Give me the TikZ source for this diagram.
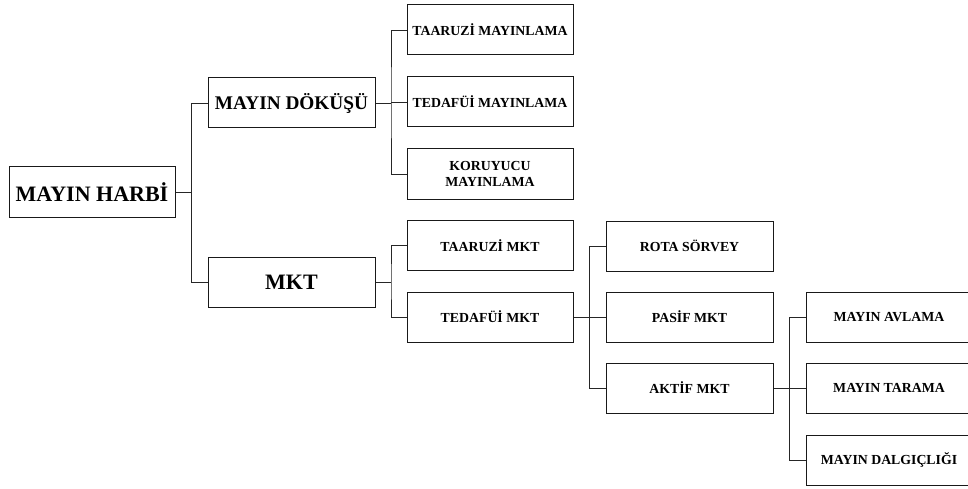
\documentclass[tikz,border=0pt]{standalone}
\usepackage{fontspec}
\setmainfont{Liberation Serif}
\usetikzlibrary{calc}
\begin{document}
\begin{tikzpicture}[x=1pt,y=-1pt,
  box/.style={draw=black!90, line width=1pt, minimum width=166pt, minimum height=50pt,
    inner sep=0pt, align=center, font=\bfseries\fontsize{13.8}{16.5}\selectfont},
  bigbox/.style={box, minimum width=167pt, font=\bfseries\fontsize{22}{26}\selectfont},
  midbox/.style={box, minimum width=167pt, font=\bfseries\fontsize{19.3}{23}\selectfont},
  link/.style={draw=black!85, line width=0.9pt}]
\clip (0,0) rectangle (968,489);

% root and second level
\node[bigbox, minimum width=166pt] (harbi) at (92,192) {MAYIN HARBİ};
\node[midbox] (dokusu) at (291.5,103) {MAYIN DÖKÜŞÜ};
\node[bigbox] (mkt) at (291.5,282) {MKT};

% third level
\node[box] (tmay) at (490,30) {TAARUZİ MAYINLAMA};
\node[box] (dmay) at (490,102) {TEDAFÜİ MAYINLAMA};
\node[box] (kmay) at (490,174) {KORUYUCU\\MAYINLAMA};
\node[box] (tmkt) at (490,245.5) {TAARUZİ MKT};
\node[box] (dmkt) at (490,317) {TEDAFÜİ MKT};

% fourth level
\node[box, minimum width=167pt] (rota) at (689.5,246) {ROTA SÖRVEY};
\node[box, minimum width=167pt] (pasif) at (689.5,317) {PASİF MKT};
\node[box, minimum width=167pt] (aktif) at (689.5,388) {AKTİF MKT};

% fifth level
\node[box] (avlama) at (889,317) {MAYIN AVLAMA};
\node[box] (tarama) at (889,388) {MAYIN TARAMA};
\node[box] (dalgic) at (889,460) {MAYIN DALGIÇLIĞI};

% bus lines
\coordinate (b1) at ($(harbi.east)!0.5!(harbi.east -| dokusu.west)$);
\draw[link] (harbi.east) -- (b1);
\draw[link] (dokusu.west) -| (b1) |- (mkt.west);

\coordinate (b2) at ($(dokusu.east)!0.5!(dokusu.east -| tmay.west)$);
\draw[link] (dokusu.east) -- (b2);
\draw[link] (tmay.west) -| (b2) |- (kmay.west);
\draw[link] (dmay.west) -- (dmay.west -| b2);

\coordinate (b3) at ($(mkt.east)!0.5!(mkt.east -| tmkt.west)$);
\draw[link] (mkt.east) -- (b3);
\draw[link] (tmkt.west) -| (b3) |- (dmkt.west);

\coordinate (b4) at ($(dmkt.east)!0.5!(dmkt.east -| rota.west)$);
\draw[link] (dmkt.east) -- (b4);
\draw[link] (rota.west) -| (b4) |- (aktif.west);
\draw[link] (pasif.west) -- (pasif.west -| b4);

\coordinate (b5) at ($(aktif.east)!0.5!(aktif.east -| avlama.west)$);
\draw[link] (aktif.east) -- (b5);
\draw[link] (avlama.west) -| (b5) |- (dalgic.west);
\draw[link] (tarama.west) -- (tarama.west -| b5);
\end{tikzpicture}
\end{document}
